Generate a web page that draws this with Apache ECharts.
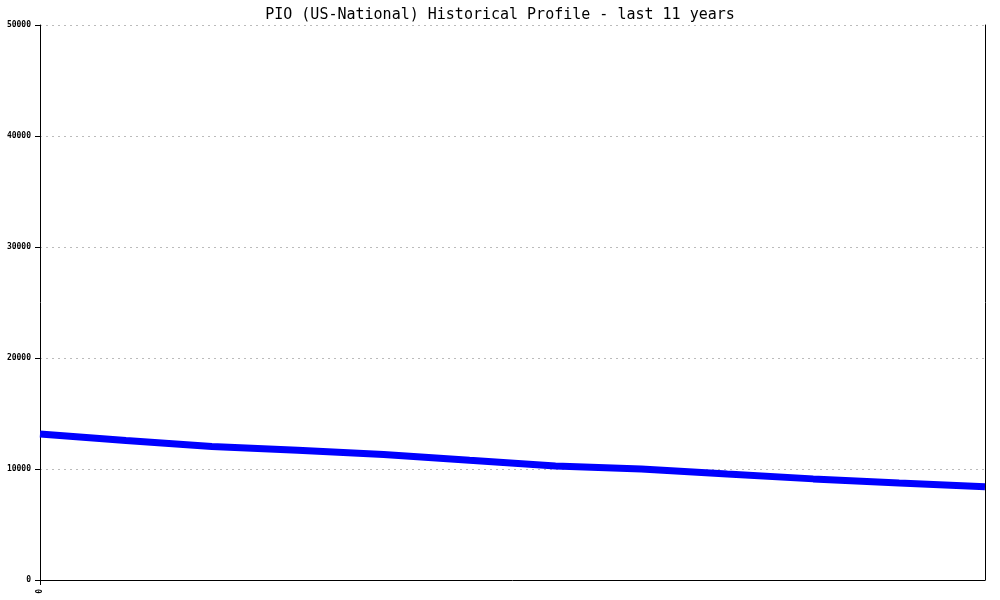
<!DOCTYPE html>
<html>
<head>
<meta charset="utf-8">
<script src="https://cdn.jsdelivr.net/npm/echarts@6/dist/echarts.min.js"></script>
<style>
  html, body { margin: 0; padding: 0; background: #fff; }
  #chart { width: 1000px; height: 600px; }
</style>
</head>
<body>
<div id="chart"></div>
<script>
// one point a year
var years = ['0', '1', '2', '3', '4', '5', '6', '7', '8', '9', '10', '11'];
var counts = [13150, 12570, 12030, 11700, 11300, 10780, 10280, 10000, 9540, 9110, 8740, 8400];
var yTicks = [0, 10000, 20000, 30000, 40000, 50000];

var myChart = echarts.init(document.getElementById('chart'));
var mono = 'DejaVu Sans Mono';

var option = {
  animation: false,
  title: {
    text: 'PIO (US-National) Historical Profile - last 11 years',
    left: 'center',
    top: 3,
    textStyle: { fontFamily: mono, fontSize: 15, fontWeight: 'normal', color: '#000' }
  },
  grid: { left: 40, right: 15, top: 25, bottom: 20 },
  xAxis: {
    type: 'category',
    data: years,
    boundaryGap: false,
    axisLine: { lineStyle: { color: '#000', width: 1 } },
    axisTick: {
      length: 5,
      interval: function (i) { return i === 0; },
      lineStyle: { color: '#000' }
    },
    axisLabel: {
      rotate: 90,
      fontFamily: mono,
      fontSize: 8,
      fontWeight: 'bold',
      color: '#000',
      margin: 9,
      interval: function (i) { return i === 0; }
    },
    splitLine: { show: false }
  },
  yAxis: [{
    type: 'value',
    min: yTicks[0],
    max: yTicks[yTicks.length - 1],
    interval: 10000,
    axisLine: { show: true, lineStyle: { color: '#000', width: 1 } },
    axisTick: { show: true, inside: false, length: 5, lineStyle: { color: '#000' } },
    axisLabel: {
      fontFamily: mono, fontSize: 8, fontWeight: 'bold', color: '#000', margin: 9,
      formatter: function (v) { return String(v); }
    },
    splitLine: { show: true, lineStyle: { color: '#bbb', type: [2, 4], width: 1 } }
  }, {
    type: 'value',
    position: 'right',
    min: yTicks[0],
    max: yTicks[yTicks.length - 1],
    interval: 10000,
    axisLine: { show: true, lineStyle: { color: '#000', width: 1 } },
    axisTick: { show: false },
    axisLabel: { show: false },
    splitLine: { show: false }
  }],
  series: [{
    type: 'line',
    data: counts,
    symbol: 'none',
    lineStyle: { color: '#0000ff', width: 7 },
    itemStyle: { color: '#0000ff' }
  }]
};

myChart.setOption(option);
</script>
</body>
</html>
